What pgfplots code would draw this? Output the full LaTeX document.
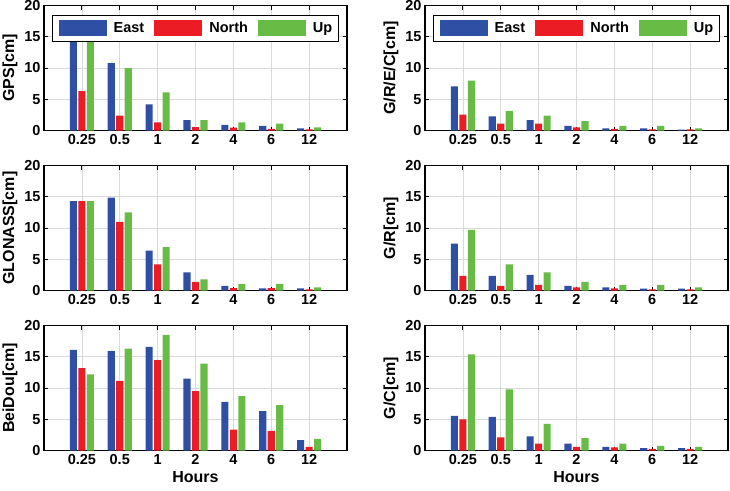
\documentclass[border=0pt]{standalone}
\usepackage{pgfplots}
\usepackage{pgfplotstable}
\pgfplotsset{compat=1.18}
\usepackage{fontspec}
\setmainfont{Liberation Sans}
\definecolor{cblue}{RGB}{47,79,165}
\definecolor{cred}{RGB}{236,28,36}
\definecolor{cgreen}{RGB}{104,188,70}

\pgfplotstableread{
x E N U
0 16.5 6.3 15.5
1 10.8 2.4 10.0
2 4.2 1.3 6.1
3 1.65 0.55 1.65
4 0.9 0.45 1.3
5 0.75 0.25 1.1
6 0.35 0.2 0.5
}\gps
\pgfplotstableread{
x E N U
0 7.05 2.55 8.0
1 2.25 1.1 3.15
2 1.65 1.1 2.4
3 0.75 0.5 1.5
4 0.35 0.25 0.75
5 0.35 0.2 0.75
6 0.15 0.2 0.35
}\grec
\pgfplotstableread{
x E N U
0 14.3 14.3 14.3
1 14.85 11.0 12.5
2 6.4 4.2 6.95
3 2.9 1.4 1.8
4 0.75 0.4 1.05
5 0.35 0.4 1.05
6 0.35 0.2 0.5
}\glo
\pgfplotstableread{
x E N U
0 7.5 2.35 9.7
1 2.35 0.75 4.2
2 2.5 0.9 2.9
3 0.75 0.5 1.4
4 0.5 0.35 0.9
5 0.3 0.2 0.9
6 0.3 0.2 0.5
}\gr
\pgfplotstableread{
x E N U
0 16.1 13.2 12.2
1 15.9 11.15 16.3
2 16.6 14.45 18.5
3 11.5 9.5 13.9
4 7.8 3.35 8.7
5 6.3 3.15 7.25
6 1.65 0.6 1.85
}\bds
\pgfplotstableread{
x E N U
0 5.55 5.0 15.4
1 5.4 2.1 9.8
2 2.25 1.1 4.25
3 1.1 0.6 2.0
4 0.6 0.5 1.1
5 0.4 0.25 0.75
6 0.4 0.25 0.6
}\gc

\pgfplotsset{
  myaxis/.style={
    scale only axis, width=303pt, height=125pt,
    ymin=0, ymax=20, ytick={0,5,10,15,20},
    xmin=-1, xmax=7, xtick={0,...,6},
    xticklabels={0.25,0.5,1,2,4,6,12},
    ybar, bar width=0.19,
    grid=major, major grid style={black!15, line width=0.6pt},
    axis line style={line width=1.4pt},
    tick style={black, line width=0.9pt}, major tick length=4pt,
    tick align=inside,
    ticklabel style={font=\bfseries\fontsize{14.5}{16}\selectfont},
    /pgf/number format/assume math mode=true,
    label style={font=\bfseries\fontsize{16}{18}\selectfont},
    legend style={at={(0.5,0.928)}, anchor=north, legend columns=3,
      draw=black, line width=1.3pt, fill=white,
      font=\bfseries\fontsize{14.5}{16}\selectfont,
      inner xsep=6pt, inner ysep=5pt,
      nodes={inner xsep=0pt},
      /tikz/every odd column/.append style={column sep=7pt},
      /tikz/every even column/.append style={column sep=10pt}},
    legend image code/.code={\fill[##1, draw=none] (0pt,-8pt) rectangle (48pt,8pt);},
  },
  sE/.style={fill=cblue, draw=none, bar shift=-0.225},
  sN/.style={fill=cred, draw=none, bar shift=0},
  sU/.style={fill=cgreen, draw=none, bar shift=0.225},
}

\begin{document}
\begin{tikzpicture}
\path[use as bounding box] (0,0) rectangle (730pt,-490pt);
% top left
\begin{axis}[myaxis, at={(44pt,-130.5pt)}, anchor=south west, ylabel={GPS[cm]}]
\addplot[sE] table[x=x,y=E]{\gps};
\addplot[sN] table[x=x,y=N]{\gps};
\addplot[sU] table[x=x,y=U]{\gps};
\legend{East,North,Up}
\end{axis}
% top right
\begin{axis}[myaxis, at={(425pt,-130.5pt)}, anchor=south west, ylabel={G/R/E/C[cm]}]
\addplot[sE] table[x=x,y=E]{\grec};
\addplot[sN] table[x=x,y=N]{\grec};
\addplot[sU] table[x=x,y=U]{\grec};
\legend{East,North,Up}
\end{axis}
% mid left
\begin{axis}[myaxis, at={(44pt,-290.5pt)}, anchor=south west, ylabel={GLONASS[cm]}]
\addplot[sE] table[x=x,y=E]{\glo};
\addplot[sN] table[x=x,y=N]{\glo};
\addplot[sU] table[x=x,y=U]{\glo};
\end{axis}
% mid right
\begin{axis}[myaxis, at={(425pt,-290.5pt)}, anchor=south west, ylabel={G/R[cm]}]
\addplot[sE] table[x=x,y=E]{\gr};
\addplot[sN] table[x=x,y=N]{\gr};
\addplot[sU] table[x=x,y=U]{\gr};
\end{axis}
% bottom left
\begin{axis}[myaxis, at={(44pt,-450.5pt)}, anchor=south west, ylabel={BeiDou[cm]}, xlabel={Hours}]
\addplot[sE] table[x=x,y=E]{\bds};
\addplot[sN] table[x=x,y=N]{\bds};
\addplot[sU] table[x=x,y=U]{\bds};
\end{axis}
% bottom right
\begin{axis}[myaxis, at={(425pt,-450.5pt)}, anchor=south west, ylabel={G/C[cm]}, xlabel={Hours}]
\addplot[sE] table[x=x,y=E]{\gc};
\addplot[sN] table[x=x,y=N]{\gc};
\addplot[sU] table[x=x,y=U]{\gc};
\end{axis}
\end{tikzpicture}
\end{document}
